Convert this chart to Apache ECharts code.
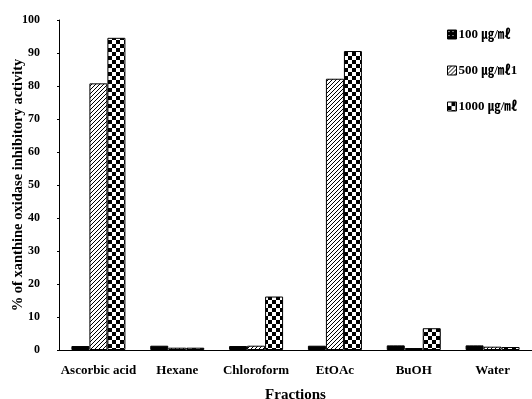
<!DOCTYPE html>
<html><head><meta charset="utf-8">
<script src="https://cdn.jsdelivr.net/npm/echarts@6/dist/echarts.min.js"></script>
<style>html,body{margin:0;padding:0;background:#fff}#c{width:532px;height:399px}</style>
</head><body><div id="c"></div>
<script>
const categories = ['Ascorbic acid','Hexane','Chloroform','EtOAc','BuOH','Water'];
const seriesNames = ['100 ㎍/㎖','500 ㎍/㎖1','1000 ㎍/㎖'];
const s100 = [1.2, 1.3, 1.2, 1.3, 1.4, 1.4];
const s500 = [80.8, 0.7, 1.3, 82.2, 0.6, 1.0];
const s1000 = [94.6, 0.7, 16.2, 90.6, 6.6, 0.9];
const yTicks = [0,10,20,30,40,50,60,70,80,90,100];

function pat(kind){
  const c=document.createElement('canvas');
  const x=c.getContext('2d');
  if(kind==='dense'){
    c.width=4;c.height=4;
    x.fillStyle='#000';x.fillRect(0,0,4,4);
    x.fillStyle='#fff';x.fillRect(1,1,1,1);
  } else if(kind==='hatch'){
    c.width=4;c.height=4;
    x.fillStyle='#fff';x.fillRect(0,0,4,4);
    x.strokeStyle='#000';x.lineWidth=1;
    x.beginPath();
    for(let k=-4;k<=8;k+=4){x.moveTo(k,4);x.lineTo(k+4,0);}
    x.stroke();
  } else {
    c.width=8;c.height=8;
    x.fillStyle='#000';x.fillRect(0,0,8,8);
    x.fillStyle='#fff';
    x.fillRect(0,0,4,4);x.fillRect(4,4,4,4);
  }
  return {image:c,repeat:'repeat'};
}
const pats=[pat('dense'),pat('hatch'),pat('check')];
const font='"Liberation Serif","Noto Sans CJK KR",serif';
const data=[s100,s500,s1000];
const chart=echarts.init(document.getElementById('c'),null,{renderer:'canvas'});
chart.setOption({
  animation:false,
  backgroundColor:'#fff',
  grid:{left:59,right:0,top:20,bottom:49,containLabel:false,outerBoundsMode:'none'},
  legend:{orient:'vertical',left:442,top:23,itemWidth:9,itemHeight:9,itemGap:23,
    textStyle:{fontFamily:font,fontWeight:'bold',fontSize:13,color:'#000',padding:[0,0,0,-3]},
    data:seriesNames.map((n,i)=>({name:n,icon:'rect',itemStyle:{color:pats[i],borderColor:'#000',borderWidth:1}}))},
  xAxis:{type:'category',data:categories,name:'Fractions',nameLocation:'middle',nameGap:38,nameMoveOverlap:false,
    nameTextStyle:{fontFamily:font,fontWeight:'bold',fontSize:15,color:'#000'},
    axisLine:{lineStyle:{color:'#000',width:1}},
    axisTick:{inside:true,length:4,lineStyle:{color:'#000'}},
    axisLabel:{interval:0,fontFamily:font,fontWeight:'bold',fontSize:13,color:'#000',margin:14}},
  yAxis:{type:'value',min:0,max:100,interval:10,
    name:'% of xanthine oxidase inhibitory activity',nameLocation:'middle',nameGap:34,nameMoveOverlap:false,
    nameTextStyle:{fontFamily:font,fontWeight:'bold',fontSize:14.5,color:'#000'},
    axisLine:{show:true,lineStyle:{color:'#000',width:1}},
    axisTick:{show:true,inside:false,length:2,lineStyle:{color:'#000'}},
    splitLine:{show:false},
    axisLabel:{fontFamily:font,fontWeight:'bold',fontSize:12,color:'#000',margin:19,
      formatter:v=>yTicks.includes(v)?String(v):''}},
  series:seriesNames.map((n,i)=>({name:n,type:'bar',data:data[i],barWidth:18,barGap:'0%',
    itemStyle:{color:pats[i],borderColor:'#000',borderWidth:1}}))
});
</script></body></html>
